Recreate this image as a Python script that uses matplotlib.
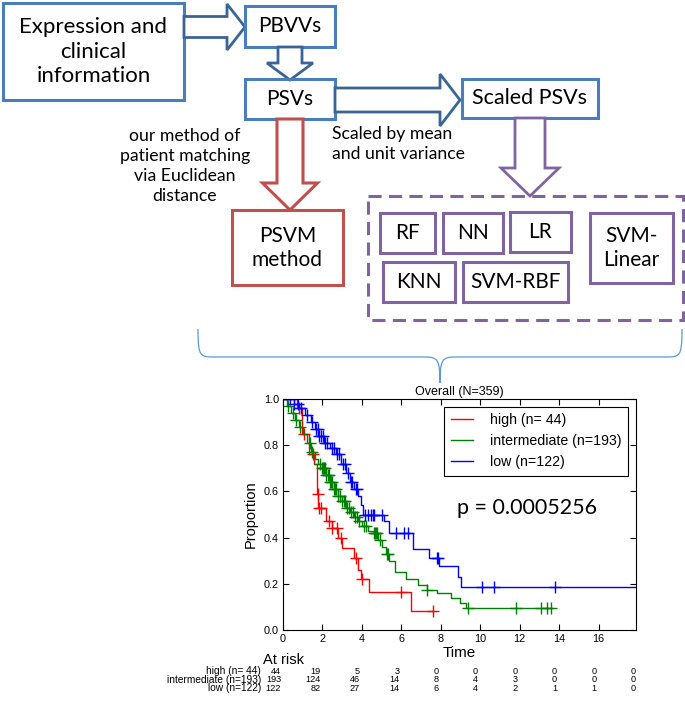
import numpy as np
import matplotlib
matplotlib.use("Agg")
import matplotlib.pyplot as plt
from matplotlib.patches import Rectangle, Polygon, PathPatch
from matplotlib.path import Path

# ---- Kaplan-Meier data ----
high_t = [0, 0.7, 0.95, 1.3, 1.55, 1.7, 1.8, 2.2, 2.5, 2.8, 3.0, 3.6, 3.8, 3.95, 4.35, 6.5]
high_s = [1.0, 0.96, 0.85, 0.76, 0.72, 0.59, 0.53, 0.47, 0.44, 0.40, 0.355, 0.31, 0.26, 0.22, 0.165, 0.083]
high_end = 7.6
high_cens = [0.8, 1.05, 1.5, 1.75, 1.85, 1.95, 2.35, 2.5, 2.75, 2.95, 3.7, 4.0, 6.0, 7.6]

int_t = [0, 0.2, 0.4, 0.6, 0.8, 1.0, 1.2, 1.4, 1.6, 1.8, 2.0, 2.2, 2.4, 2.6, 2.8, 3.0, 3.2, 3.4,
         3.6, 3.8, 4.0, 4.3, 4.6, 4.8, 5.0, 5.2, 5.4, 5.7, 6.25, 6.85, 7.3, 7.8, 8.5, 9.0, 9.3]
int_s = [1.0, 0.97, 0.94, 0.91, 0.88, 0.85, 0.81, 0.77, 0.74, 0.72, 0.70, 0.67, 0.64, 0.61, 0.58,
         0.56, 0.53, 0.51, 0.49, 0.47, 0.45, 0.43, 0.42, 0.39, 0.36, 0.33, 0.30, 0.25, 0.22, 0.195,
         0.175, 0.16, 0.137, 0.118, 0.095]
int_end = 13.6
int_cens = [0.25, 0.5, 0.65, 0.85, 1.35, 1.45, 1.9, 2.0, 2.05, 2.1, 2.15, 2.2, 2.3, 2.35, 2.4, 2.45,
            2.5, 2.6, 2.65, 2.7, 2.8, 2.9, 3.0, 3.1, 3.15, 3.25, 3.35, 3.45, 3.55, 3.65, 3.75, 3.85,
            4.1, 4.2, 4.6, 4.65, 4.7, 4.75, 4.9, 5.25, 5.3, 7.3, 9.4, 11.8, 13.1, 13.4, 13.6]

low_t = [0, 0.55, 0.8, 1.1, 1.4, 1.6, 1.8, 2.1, 2.4, 2.7, 2.95, 3.2, 3.4, 3.6, 3.8, 3.95, 4.05,
         5.1, 5.35, 6.6, 7.4, 7.9, 8.85, 9.05]
low_s = [1.0, 0.98, 0.96, 0.93, 0.90, 0.87, 0.84, 0.81, 0.79, 0.76, 0.72, 0.68, 0.64, 0.61, 0.58,
         0.54, 0.50, 0.47, 0.42, 0.35, 0.31, 0.277, 0.23, 0.185]
low_end = 17.9
low_cens = [0.35, 0.55, 0.75, 0.9, 1.2, 1.45, 1.65, 1.75, 1.85, 1.95, 2.05, 2.15, 2.25, 2.5, 2.6,
            2.75, 2.85, 3.05, 3.15, 3.3, 3.45, 3.5, 3.7, 3.75, 4.15, 4.3, 4.45, 4.55, 4.6, 5.0,
            5.75, 6.15, 6.35, 7.8, 7.85, 10.1, 10.7, 13.8]

group_labels = ["high (n= 44)", "intermediate (n=193)", "low (n=122)"]
group_colors = ["r", "g", "b"]

risk_times = [0, 2, 4, 6, 8, 10, 12, 14, 16, 18]
risk_high = [44, 19, 5, 3, 0, 0, 0, 0, 0, 0]
risk_int = [193, 124, 46, 14, 8, 4, 3, 0, 0, 0]
risk_low = [122, 82, 27, 14, 6, 4, 2, 1, 1, 0]

p_text = "p = 0.0005256"

W, H = 685, 701
fig = plt.figure(figsize=(W / 100, H / 100), dpi=100)

# ---- diagram in pixel coordinates ----
d = fig.add_axes([0, 0, 1, 1])
d.set_xlim(0, W)
d.set_ylim(H, 0)
d.axis("off")

BLUE = "#4a7ebb"
DBLUE = "#3a6496"
RED = "#c0504d"
PURP = "#8064a2"
CAL = ["Lato", "DejaVu Sans"]


def box(x0, y0, x1, y1, color, label=None, size=15, lw=2.2, ls="-", lsp=1.15):
    d.add_patch(Rectangle((x0, y0), x1 - x0, y1 - y0, fill=False, ec=color, lw=lw, ls=ls))
    if label:
        d.text((x0 + x1) / 2, (y0 + y1) / 2, label, ha="center", va="center",
               fontsize=size, family=CAL, linespacing=lsp)


def right_arrow(x0, x1, xh, yc, sw, hw, color):
    pts = [(x0, yc - sw / 2), (xh, yc - sw / 2), (xh, yc - hw / 2), (x1, yc),
           (xh, yc + hw / 2), (xh, yc + sw / 2), (x0, yc + sw / 2)]
    d.add_patch(Polygon(pts, closed=True, fc="white", ec=color, lw=2))


def down_arrow(y0, y1, yh, xc, sw, hw, color, lw=2):
    pts = [(xc - sw / 2, y0), (xc - sw / 2, yh), (xc - hw / 2, yh), (xc, y1),
           (xc + hw / 2, yh), (xc + sw / 2, yh), (xc + sw / 2, y0)]
    d.add_patch(Polygon(pts, closed=True, fc="white", ec=color, lw=lw))


box(3, 3, 184, 100, BLUE, "Expression and\nclinical\ninformation", size=16, lsp=1.3)
right_arrow(184, 245, 227, 27, 21, 46, DBLUE)
box(245, 6, 335, 47, BLUE, "PBVVs")
down_arrow(47, 80, 63, 290, 24, 46, DBLUE)
box(245, 79, 335, 119, BLUE, "PSVs")
right_arrow(335, 460, 440, 100, 24, 52, DBLUE)
box(462, 79, 598, 118, BLUE, "Scaled PSVs", size=15.5)

down_arrow(119, 210, 183, 290, 26, 55, RED, lw=2.2)
box(232, 210, 343, 285, RED, "PSVM\nmethod", lsp=1.25)
d.text(185, 166, "our method of\npatient matching\nvia Euclidean\ndistance", ha="center",
       va="center", fontsize=12.7, family=CAL, linespacing=1.3)
d.text(332, 144, "Scaled by mean\nand unit variance", ha="left", va="center",
       fontsize=12.7, family=CAL, linespacing=1.3)

down_arrow(118, 196, 168, 530, 30, 58, PURP)
dash = Rectangle((368, 196), 315, 124, fill=False, ec=PURP, lw=2.2)
dash.set_linestyle((0, (4.3, 2.4)))
d.add_patch(dash)
box(380, 213, 435, 253, PURP, "RF")
box(443, 213, 503, 253, PURP, "NN")
box(510, 212, 571, 252, PURP, "LR")
box(590, 213, 673, 283, PURP, "SVM-\nLinear", lsp=1.25)
box(383, 262, 455, 302, PURP, "KNN")
box(463, 262, 568, 302, PURP, "SVM-RBF")

# curly brace
verts = [(198, 329), (198, 357), (200, 357), (215, 357),
         (425, 357),
         (438, 357), (440, 360), (440, 383),
         (440, 360), (442, 357), (455, 357),
         (665, 357),
         (680, 357), (682, 357), (682, 329)]
codes = [Path.MOVETO, Path.CURVE4, Path.CURVE4, Path.CURVE4,
         Path.LINETO,
         Path.CURVE4, Path.CURVE4, Path.CURVE4,
         Path.CURVE4, Path.CURVE4, Path.CURVE4,
         Path.LINETO,
         Path.CURVE4, Path.CURVE4, Path.CURVE4]
d.add_patch(PathPatch(Path(verts, codes), fc="none", ec="#5b9bd5", lw=0.9))

# ---- Kaplan-Meier plot ----
ARIAL = ["Liberation Sans", "DejaVu Sans"]
ax = fig.add_axes([283 / W, 1 - 630 / H, 353 / W, 231 / H])
series = [(high_t, high_s, high_end, high_cens),
          (int_t, int_s, int_end, int_cens),
          (low_t, low_s, low_end, low_cens)]
for (t, s, end, cens), lab, col in zip(series, group_labels, group_colors):
    tt = np.array(t + [end])
    ss = np.array(s + [s[-1]])
    ax.step(tt, ss, where="post", color=col, lw=1, label=lab)
    idx = np.searchsorted(np.array(t), np.array(cens), side="right") - 1
    ax.plot(cens, np.array(s)[idx], "+", color=col, ms=8, mew=1, ls="none")

ax.set_xlim(0, 17.9)
ax.set_ylim(0, 1.0)
ax.set_xticks(range(0, 17, 2))
ax.set_yticks(np.arange(0, 1.01, 0.2))
ax.set_yticklabels([f"{v:.1f}" for v in np.arange(0, 1.01, 0.2)])
ax.tick_params(direction="in", top=True, right=True, length=4, labelsize=7.8, pad=3)
for lab in ax.get_xticklabels() + ax.get_yticklabels():
    lab.set_family(ARIAL)
ax.set_title("Overall (N=359)", fontsize=9, family=ARIAL, pad=3)
ax.set_xlabel("Time", fontsize=11, family=ARIAL, labelpad=1)
ax.set_ylabel("Proportion", fontsize=10.5, family=ARIAL, labelpad=4)
leg = ax.legend(loc="upper right", fancybox=False, framealpha=1, edgecolor="black",
                prop={"family": ARIAL, "size": 10.2}, handlelength=1.6, handletextpad=1.2,
                borderaxespad=0.55, labelspacing=0.5, borderpad=0.45)
leg.get_frame().set_linewidth(0.8)
ax.text(0.69, 0.53, p_text, transform=ax.transAxes, ha="center", va="center",
        fontsize=15.5, family=CAL)

# at risk table
d.text(284, 660, "At risk", ha="center", va="center", fontsize=10.5, family=ARIAL)
tick_px = [283 + t * (353 / 17.9) for t in risk_times]
for row, (lab, vals) in enumerate(zip(group_labels, [risk_high, risk_int, risk_low])):
    y = 671 + row * 8.7
    d.text(261, y, lab, ha="right", va="center", fontsize=7.3, family=ARIAL)
    for x, v in zip(tick_px, vals):
        d.text(x - 2, y, str(v), ha="right", va="center", fontsize=6.6, family=ARIAL)

fig.savefig("out.png", dpi=100)
